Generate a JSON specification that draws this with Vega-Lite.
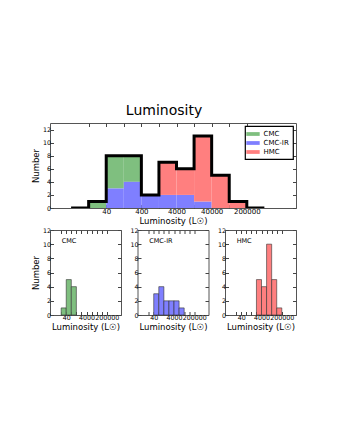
{
  "$schema": "https://vega.github.io/schema/vega-lite/v6.json",
  "padding": {"left": 30, "top": 104, "right": 5, "bottom": 5},
  "title": {"text": "Luminosity", "fontSize": 14, "font": "DejaVu Sans", "fontWeight": "normal", "color": "#000", "anchor": "middle", "offset": 4},
  "datasets": {
    "hist": [
      {"g": "CMC", "s": 1, "lo": 12.59, "hi": 39.81, "n": 1},
      {"g": "CMC", "s": 1, "lo": 39.81, "hi": 125.9, "n": 5},
      {"g": "CMC", "s": 1, "lo": 125.9, "hi": 398.1, "n": 4},
      {"g": "CMC-IR", "s": 0, "lo": 39.81, "hi": 125.9, "n": 3},
      {"g": "CMC-IR", "s": 0, "lo": 125.9, "hi": 398.1, "n": 4},
      {"g": "CMC-IR", "s": 0, "lo": 398.1, "hi": 1259, "n": 2},
      {"g": "CMC-IR", "s": 0, "lo": 1259, "hi": 3981, "n": 2},
      {"g": "CMC-IR", "s": 0, "lo": 3981, "hi": 12589, "n": 2},
      {"g": "CMC-IR", "s": 0, "lo": 12589, "hi": 39811, "n": 1},
      {"g": "HMC", "s": 2, "lo": 1259, "hi": 3981, "n": 5},
      {"g": "HMC", "s": 2, "lo": 3981, "hi": 12589, "n": 4},
      {"g": "HMC", "s": 2, "lo": 12589, "hi": 39811, "n": 10},
      {"g": "HMC", "s": 2, "lo": 39811, "hi": 125893, "n": 5},
      {"g": "HMC", "s": 2, "lo": 125893, "hi": 398107, "n": 1}
    ],
    "tot": [
      {"x": 3.981, "t": 0},
      {"x": 12.59, "t": 1},
      {"x": 39.81, "t": 8},
      {"x": 125.9, "t": 8},
      {"x": 398.1, "t": 2},
      {"x": 1259, "t": 7},
      {"x": 3981, "t": 6},
      {"x": 12589, "t": 11},
      {"x": 39811, "t": 5},
      {"x": 125893, "t": 1},
      {"x": 398107, "t": 0},
      {"x": 1258925, "t": 0}
    ]
  },
  "vconcat": [
    {
      "width": 246,
      "height": 85,
      "layer": [
        {
          "data": {"name": "hist"},
          "mark": {"type": "bar", "orient": "vertical", "clip": true},
          "encoding": {
            "x": {"field": "lo", "type": "quantitative", "scale": {"type": "log", "domain": [3.981, 1258925]},
              "axis": {"values": [12.59, 39.81, 125.9, 398.1, 1259, 3981, 12589, 39811, 125893, 398107], "labelExpr": "datum.value==39.81?'40':datum.value==398.1?'400':datum.value==3981?'4000':datum.value==39811?'40000':datum.value==398107?'200000':''", "title": "Luminosity (L☉)", "labelOverlap": false, "labelFlush": false, "labelBound": false, "labelFontSize": 7}},
            "x2": {"field": "hi"},
            "y": {"field": "n", "type": "quantitative", "stack": "zero", "scale": {"domain": [0, 13]}, "axis": {"values": [0, 2, 4, 6, 8, 10, 12], "title": "Number"}},
            "color": {"field": "g", "type": "nominal", "scale": {"domain": ["CMC", "CMC-IR", "HMC"], "range": ["#7fbf7f", "#7f7fff", "#ff7f7f"]}, "legend": {"title": null}},
            "order": {"field": "s"}
          }
        },
        {
          "data": {"name": "tot"},
          "mark": {"type": "line", "interpolate": "step-after", "color": "#000", "strokeWidth": 3, "clip": true},
          "encoding": {
            "x": {"field": "x", "type": "quantitative", "axis": {"orient": "top", "labels": false, "title": null, "values": [12.59, 39.81, 125.9, 398.1, 1259, 3981, 12589, 39811, 125893, 398107]}},
            "y": {"field": "t", "type": "quantitative", "axis": {"orient": "right", "labels": false, "title": null, "values": [0, 2, 4, 6, 8, 10, 12]}}
          }
        }
      ],
      "resolve": {"axis": {"x": "independent", "y": "independent"}}
    },
    {
      "hconcat": [
        {
          "width": 71,
          "height": 85,
          "layer": [
            {
              "data": {"name": "hist"},
              "transform": [{"filter": "datum.g == 'CMC'"}],
              "mark": {"type": "bar", "orient": "vertical", "color": "#7fbf7f", "stroke": "#333", "strokeWidth": 0.6},
              "encoding": {
                "x": {"field": "lo", "type": "quantitative", "scale": {"type": "log", "domain": [3.981, 1258925]},
                  "axis": {"values": [12.59, 39.81, 125.9, 398.1, 1259, 3981, 12589, 39811, 125893, 398107], "labelExpr": "datum.value==39.81?'40':datum.value==3981?'4000':datum.value==398107?'200000':''", "title": "Luminosity (L☉)", "labelOverlap": false, "labelFlush": false, "labelBound": false}},
                "x2": {"field": "hi"},
                "y": {"field": "n", "type": "quantitative", "stack": null, "scale": {"domain": [0, 12]}, "axis": {"values": [0, 2, 4, 6, 8, 10, 12], "title": "Number"}}
              }
            },
            {
              "data": {"values": [{"label": "CMC"}]},
              "mark": {"type": "text", "align": "left", "baseline": "middle", "fontSize": 6.5, "font": "DejaVu Sans"},
              "encoding": {
                "text": {"field": "label"},
                "x": {"datum": 14, "type": "quantitative", "axis": {"orient": "top", "labels": false, "title": null, "values": [12.59, 39.81, 125.9, 398.1, 1259, 3981, 12589, 39811, 125893, 398107]}},
                "y": {"datum": 10.5, "type": "quantitative", "axis": {"orient": "right", "labels": false, "title": null, "values": [0, 2, 4, 6, 8, 10, 12]}}
              }
            }
          ],
          "resolve": {"axis": {"x": "independent", "y": "independent"}}
        },
        {
          "width": 71,
          "height": 85,
          "layer": [
            {
              "data": {"name": "hist"},
              "transform": [{"filter": "datum.g == 'CMC-IR'"}],
              "mark": {"type": "bar", "orient": "vertical", "color": "#7f7fff", "stroke": "#333", "strokeWidth": 0.6},
              "encoding": {
                "x": {"field": "lo", "type": "quantitative", "scale": {"type": "log", "domain": [3.981, 1258925]},
                  "axis": {"values": [12.59, 39.81, 125.9, 398.1, 1259, 3981, 12589, 39811, 125893, 398107], "labelExpr": "datum.value==39.81?'40':datum.value==3981?'4000':datum.value==398107?'200000':''", "title": "Luminosity (L☉)", "labelOverlap": false, "labelFlush": false, "labelBound": false}},
                "x2": {"field": "hi"},
                "y": {"field": "n", "type": "quantitative", "stack": null, "scale": {"domain": [0, 12]}, "axis": {"values": [0, 2, 4, 6, 8, 10, 12], "title": null}}
              }
            },
            {
              "data": {"values": [{"label": "CMC-IR"}]},
              "mark": {"type": "text", "align": "left", "baseline": "middle", "fontSize": 6.5, "font": "DejaVu Sans"},
              "encoding": {
                "text": {"field": "label"},
                "x": {"datum": 14, "type": "quantitative", "axis": {"orient": "top", "labels": false, "title": null, "values": [12.59, 39.81, 125.9, 398.1, 1259, 3981, 12589, 39811, 125893, 398107]}},
                "y": {"datum": 10.5, "type": "quantitative", "axis": {"orient": "right", "labels": false, "title": null, "values": [0, 2, 4, 6, 8, 10, 12]}}
              }
            }
          ],
          "resolve": {"axis": {"x": "independent", "y": "independent"}}
        },
        {
          "width": 71,
          "height": 85,
          "layer": [
            {
              "data": {"name": "hist"},
              "transform": [{"filter": "datum.g == 'HMC'"}],
              "mark": {"type": "bar", "orient": "vertical", "color": "#ff7f7f", "stroke": "#333", "strokeWidth": 0.6},
              "encoding": {
                "x": {"field": "lo", "type": "quantitative", "scale": {"type": "log", "domain": [3.981, 1258925]},
                  "axis": {"values": [12.59, 39.81, 125.9, 398.1, 1259, 3981, 12589, 39811, 125893, 398107], "labelExpr": "datum.value==39.81?'40':datum.value==3981?'4000':datum.value==398107?'200000':''", "title": "Luminosity (L☉)", "labelOverlap": false, "labelFlush": false, "labelBound": false}},
                "x2": {"field": "hi"},
                "y": {"field": "n", "type": "quantitative", "stack": null, "scale": {"domain": [0, 12]}, "axis": {"values": [0, 2, 4, 6, 8, 10, 12], "title": null}}
              }
            },
            {
              "data": {"values": [{"label": "HMC"}]},
              "mark": {"type": "text", "align": "left", "baseline": "middle", "fontSize": 6.5, "font": "DejaVu Sans"},
              "encoding": {
                "text": {"field": "label"},
                "x": {"datum": 14, "type": "quantitative", "axis": {"orient": "top", "labels": false, "title": null, "values": [12.59, 39.81, 125.9, 398.1, 1259, 3981, 12589, 39811, 125893, 398107]}},
                "y": {"datum": 10.5, "type": "quantitative", "axis": {"orient": "right", "labels": false, "title": null, "values": [0, 2, 4, 6, 8, 10, 12]}}
              }
            }
          ],
          "resolve": {"axis": {"x": "independent", "y": "independent"}}
        }
      ],
      "spacing": 16.5,
      "bounds": "flush"
    }
  ],
  "spacing": 22,
  "bounds": "flush",
  "resolve": {"legend": {"color": "independent"}},
  "config": {
    "font": "DejaVu Sans",
    "view": {"stroke": "#555", "strokeWidth": 1},
    "axis": {"grid": false, "domain": false, "tickColor": "#444", "tickSize": -3.5, "labelFontSize": 6.3, "labelColor": "#000", "labelFont": "DejaVu Sans", "titleFont": "DejaVu Sans", "titleFontSize": 8.5, "titleFontWeight": "normal", "titleColor": "#000", "labelPadding": 3, "titlePadding": 2},
    "legend": {"orient": "top-right", "offset": 3, "fillColor": "#fff", "strokeColor": "#000", "strokeWidth": 1.2, "padding": 3.5, "labelFontSize": 7, "labelFont": "DejaVu Sans", "symbolType": "M-1.6,-0.45H1.6V0.45H-1.6Z", "symbolSize": 70, "symbolStrokeWidth": 0, "rowPadding": 1, "labelOffset": 6, "cornerRadius": 0}
  }
}
